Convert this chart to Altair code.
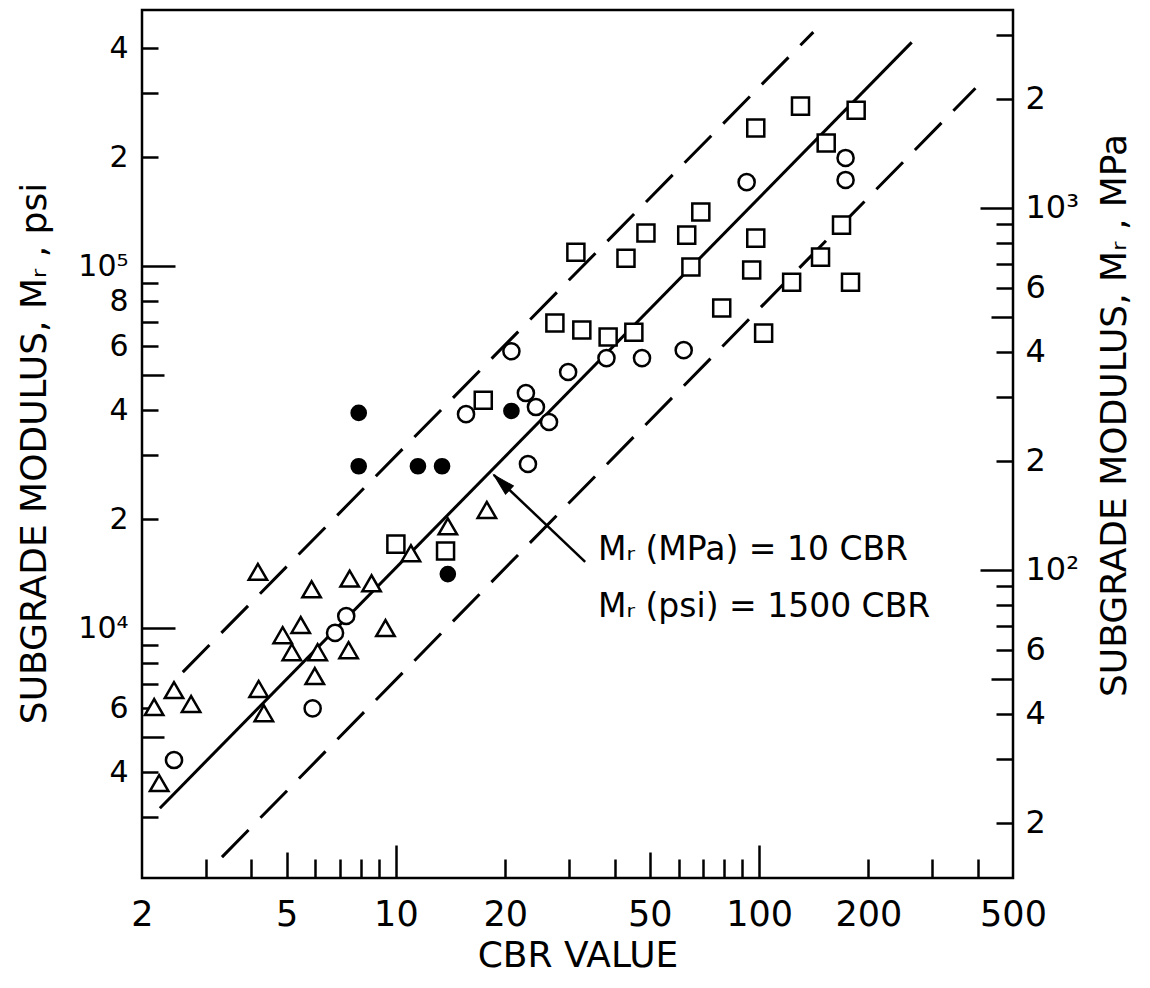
import altair as alt
import pandas as pd

PSI_PER_MPA = 145.038

# ---------------- data ----------------
tri_cbr = [2.23, 2.16, 2.45, 2.73, 4.19, 4.33, 4.17, 4.88, 5.17, 5.47,
           6.09, 5.98, 5.86, 7.41, 7.46, 8.57, 9.36, 11.0, 13.9, 17.8]
tri_psi = [3730, 6050, 6740, 6170, 6790, 5820, 14300, 9560, 8580, 10200,
           8580, 7370, 12800, 8690, 13700, 13300, 10000, 16100, 19100, 21200]

circ_cbr = [2.45, 5.9, 6.8, 7.3, 15.6, 20.8, 22.8, 24.3, 26.4, 23.1,
            29.8, 38.0, 47.6, 62.0, 92.4, 173, 173]
circ_psi = [4320, 6000, 9700, 10800, 39000, 58200, 44600, 40800, 37100, 28400,
            51000, 55700, 55700, 58600, 170600, 199000, 173000]

sq_cbr = [31.3, 43.0, 48.8, 63.2, 69.1, 64.9, 97.9, 130, 185, 153,
          97.9, 95.4, 168.6, 147.6, 122.9, 178.5, 78.9, 102.9, 27.4, 32.5,
          38.4, 45.2, 17.4, 10.0, 13.7]
sq_psi = [109300, 105200, 123400, 121800, 141000, 99400, 240600, 276700, 269700, 218700,
          119500, 97500, 129800, 105900, 90300, 90300, 76600, 65300, 69600, 66600,
          63700, 65700, 42600, 17060, 16320]

dot_cbr = [7.9, 7.9, 11.5, 13.4, 20.8, 13.9]
dot_psi = [39300, 28000, 28000, 28000, 39800, 14100]

# reference lines (end points)
mid_cbr = [2.24, 263]
mid_psi = [3180, 415000]
up_cbr = [2.59, 141]
up_psi = [7560, 443000]
low_cbr = [3.32, 394]
low_psi = [2330, 310000]

# annotation
note_text = ["M\u1d63 (MPa) = 10 CBR", "M\u1d63 (psi) = 1500 CBR"]
note_cbr = [36.0, 36.0]
note_psi = [15430, 10735]
arrow_cbr = [33.2, 18.6]
arrow_psi = [15230, 26500]

# axes
x_domain = [2, 500]
psi_domain = [2040, 510000]
mpa_domain = [psi_domain[0] / PSI_PER_MPA, psi_domain[1] / PSI_PER_MPA]

x_minor = [3, 4, 6, 7, 8, 9, 20, 30, 40, 60, 70, 80, 90, 200, 300, 400]
x_mid = [5, 50]
x_major = [10, 100]
x_labels = [2, 5, 10, 20, 50, 100, 200, 500]
x_label_text = ["2", "5", "10", "20", "50", "100", "200", "500"]

y_minor = [3000, 4000, 6000, 7000, 8000, 9000, 20000, 30000, 40000, 60000,
           70000, 80000, 90000, 200000, 300000, 400000]
y_mid = [5000, 50000]
y_major = [10000, 100000]
y_labels = [4000, 6000, 10000, 20000, 40000, 60000, 80000, 100000, 200000, 400000]
y_label_text = ["4", "6", "10\u2074", "2", "4", "6", "8", "10\u2075", "2", "4"]

r_minor = [20, 30, 40, 60, 70, 80, 90, 200, 300, 400, 600, 700, 800, 900, 2000, 3000]
r_mid = [50, 500]
r_major = [100, 1000]
r_labels = [20, 40, 60, 100, 200, 400, 600, 1000, 2000]
r_label_text = ["2", "4", "6", "10\u00b2", "2", "4", "6", "10\u00b3", "2"]

FONT = "DejaVu Sans"

xs = alt.Scale(type="log", domain=x_domain, nice=False)
ys = alt.Scale(type="log", domain=psi_domain, nice=False)
ms = alt.Scale(type="log", domain=mpa_domain, nice=False)


def X(axis=None):
    return alt.X("cbr:Q", scale=xs, axis=axis)


def Y(axis=None):
    return alt.Y("psi:Q", scale=ys, axis=axis)


def label_expr(vals, texts):
    expr = "''"
    for v, t in reversed(list(zip(vals, texts))):
        expr = f"abs(datum.value - {v}) < {v * 1e-6} ? '{t}' : ({expr})"
    return expr


def df_xy(c, p):
    return pd.DataFrame({"cbr": c, "psi": p})


# ---------------- layers ----------------
l_up = alt.Chart(df_xy(up_cbr, up_psi)).mark_line(
    color="black", strokeWidth=3, strokeDash=[38, 17]).encode(x=X(), y=Y())
l_mid = alt.Chart(df_xy(mid_cbr, mid_psi)).mark_line(
    color="black", strokeWidth=3).encode(x=X(), y=Y())
l_low = alt.Chart(df_xy(low_cbr, low_psi)).mark_line(
    color="black", strokeWidth=3, strokeDash=[38, 17]).encode(x=X(), y=Y())

arrow_line = alt.Chart(df_xy(arrow_cbr, arrow_psi)).mark_line(
    color="black", strokeWidth=2.5).encode(x=X(), y=Y())
arrow_head = alt.Chart(df_xy(arrow_cbr[1:], arrow_psi[1:])).mark_point(
    shape="M0,0L0.26,1L-0.26,1Z", size=1900, angle=314, filled=True,
    fill="black", stroke="black", strokeWidth=1, opacity=1).encode(x=X(), y=Y())


def pts(c, p, shape, size, fill):
    return alt.Chart(df_xy(c, p)).mark_point(
        shape=shape, size=size, filled=True, fill=fill, stroke="black",
        strokeWidth=2.5, opacity=1).encode(x=X(), y=Y())


p_tri = pts(tri_cbr, tri_psi, "triangle-up", 340, "white")
p_circ = pts(circ_cbr, circ_psi, "circle", 260, "white")
p_sq = pts(sq_cbr, sq_psi, "square", 290, "white")
p_dot = pts(dot_cbr, dot_psi, "circle", 200, "black")

notes = alt.Chart(pd.DataFrame({"cbr": note_cbr, "psi": note_psi, "label": note_text})).mark_text(
    align="left", baseline="alphabetic", font=FONT, fontSize=33, color="black"
).encode(x=X(), y=Y(), text="label:N")

# ---------------- axes (carried by invisible layers) ----------------
df_c = pd.DataFrame({"cbr": [10], "psi": [10000], "mpa": [100]})


def tick_axis(orient, values, size):
    return alt.Axis(orient=orient, values=values, tickSize=size, offset=-size,
                    labels=False, domain=False, grid=False, title=None,
                    tickWidth=2.5, tickColor="black")


def carrier(xaxis=None, yaxis=None, right=False):
    if right:
        yenc = alt.Y("mpa:Q", scale=ms, axis=yaxis)
    else:
        yenc = alt.Y("psi:Q", scale=ys, axis=yaxis)
    return alt.Chart(df_c).mark_point(opacity=0).encode(
        x=alt.X("cbr:Q", scale=xs, axis=xaxis), y=yenc)


x_lab_axis = alt.Axis(orient="bottom", values=x_labels, ticks=False, tickSize=0,
                      labelExpr=label_expr(x_labels, x_label_text), labelPadding=19,
                      labelFontSize=35,
                      labelFlush=False, labelOverlap=False, domain=False, grid=False,
                      title="CBR VALUE", titlePadding=6)
y_lab_axis = alt.Axis(orient="left", values=y_labels, ticks=False, tickSize=0,
                      labelExpr=label_expr(y_labels, y_label_text), labelPadding=14,
                      labelFontSize=30,
                      labelOverlap=False, labelFlush=False, domain=False, grid=False,
                      title="SUBGRADE MODULUS, M\u1d63 , psi", titlePadding=24,
                      titleAngle=270, titleBaseline="bottom", titleY=443)
r_lab_axis = alt.Axis(orient="right", values=r_labels, ticks=False, tickSize=0,
                      labelExpr=label_expr(r_labels, r_label_text), labelPadding=12,
                      labelFontSize=32,
                      labelOverlap=False, labelFlush=False, domain=False, grid=False,
                      title="SUBGRADE MODULUS, M\u1d63 , MPa", titlePadding=19,
                      titleAngle=270, titleBaseline="top", titleY=405)

carriers = [
    carrier(xaxis=tick_axis("bottom", x_minor, 19), yaxis=tick_axis("left", y_minor, 16)),
    carrier(xaxis=tick_axis("bottom", x_mid, 26), yaxis=tick_axis("left", y_mid, 22)),
    carrier(xaxis=tick_axis("bottom", x_major, 33), yaxis=tick_axis("left", y_major, 33)),
    carrier(xaxis=x_lab_axis, yaxis=y_lab_axis),
    carrier(yaxis=tick_axis("right", r_minor, 17), right=True),
    carrier(yaxis=tick_axis("right", r_mid, 22), right=True),
    carrier(yaxis=tick_axis("right", r_major, 33), right=True),
    carrier(yaxis=r_lab_axis, right=True),
]

chart = alt.layer(
    l_up, l_mid, l_low, arrow_line, arrow_head,
    p_tri, p_circ, p_sq, p_dot, notes, *carriers
).resolve_scale(y="independent").resolve_axis(
    x="independent", y="independent"
).properties(
    width=871, height=868,
    padding={"left": 134, "top": 2, "right": 125, "bottom": 100},
    autosize=alt.AutoSizeParams(type="none"),
    background="white",
).configure_view(
    stroke="black", strokeWidth=2.5
).configure_axis(
    labelFont=FONT, titleFont=FONT, labelFontSize=35, titleFontSize=36,
    labelColor="black", titleColor="black", titleFontWeight="normal",
)

chart.save("out.html", embed_options={"renderer": "svg", "actions": False})
